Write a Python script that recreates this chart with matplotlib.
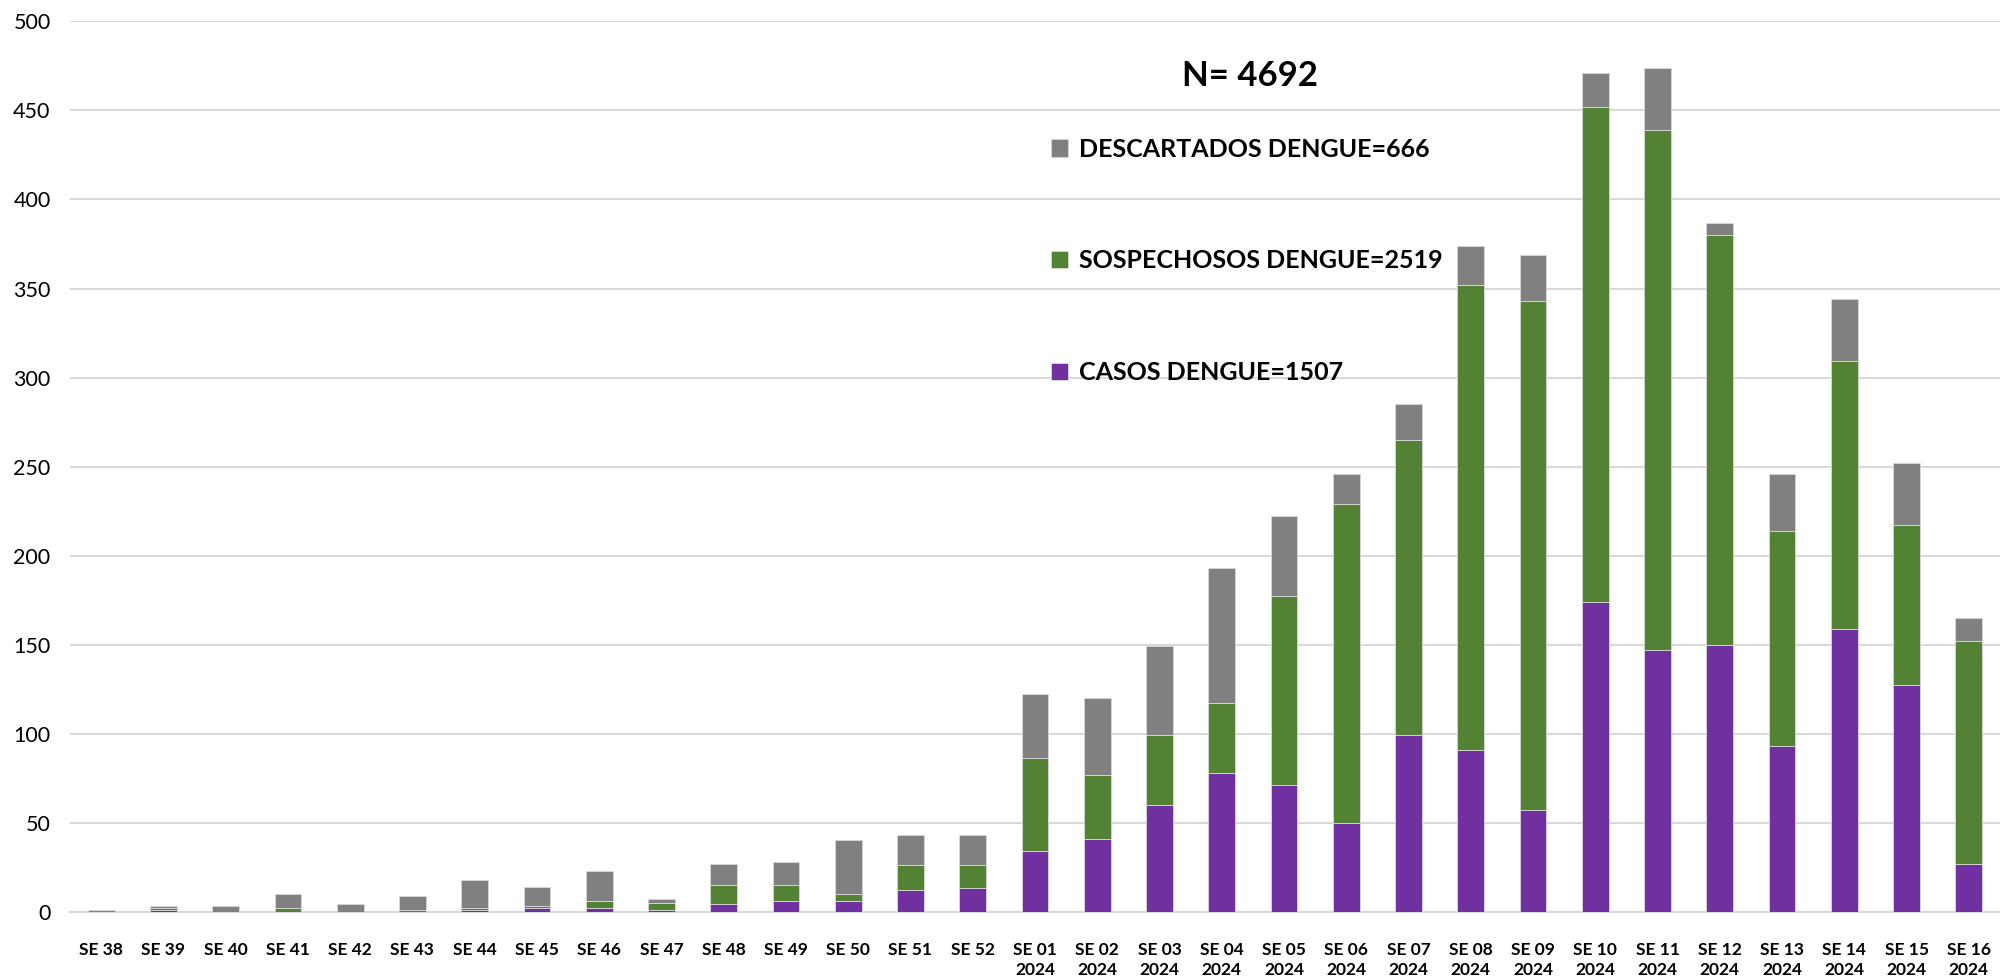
import matplotlib
matplotlib.use('Agg')
import matplotlib.pyplot as plt
import numpy as np

plt.rcParams['font.family'] = ['Lato', 'DejaVu Sans']

# semanas epidemiologicas
semanas = ["SE 38", "SE 39", "SE 40", "SE 41", "SE 42", "SE 43", "SE 44", "SE 45",
           "SE 46", "SE 47", "SE 48", "SE 49", "SE 50", "SE 51", "SE 52",
           "SE 01\n2024", "SE 02\n2024", "SE 03\n2024", "SE 04\n2024", "SE 05\n2024",
           "SE 06\n2024", "SE 07\n2024", "SE 08\n2024", "SE 09\n2024", "SE 10\n2024",
           "SE 11\n2024", "SE 12\n2024", "SE 13\n2024", "SE 14\n2024", "SE 15\n2024",
           "SE 16\n2024"]

casos = [0, 1, 0, 0, 0, 0, 1, 2, 2, 1, 4, 6, 6, 12, 13,
         34, 41, 60, 78, 71, 50, 99, 91, 57, 174, 147, 150, 93, 159, 127, 27]
sospechosos = [0, 1, 0, 2, 0, 1, 1, 1, 4, 4, 11, 9, 4, 14, 13,
               52, 36, 39, 39, 106, 179, 166, 261, 286, 278, 292, 230, 121, 150, 90, 125]
descartados = [1, 1, 3, 8, 4, 8, 16, 11, 17, 2, 12, 13, 30, 17, 17,
               36, 43, 50, 76, 45, 17, 20, 22, 26, 19, 35, 7, 32, 35, 35, 13]

lbl_casos = "CASOS DENGUE=1507"
lbl_sosp = "SOSPECHOSOS DENGUE=2519"
lbl_desc = "DESCARTADOS DENGUE=666"
total_txt = "N= 4692"

c_casos = "#7030A0"
c_sosp = "#548235"
c_desc = "#808080"

fig = plt.figure(figsize=(20, 9.76), dpi=100)
ax = fig.add_axes([0.035, 0.066, 0.965, 0.912])

x = np.arange(len(semanas))
w = 0.43
casos = np.array(casos)
sospechosos = np.array(sospechosos)
descartados = np.array(descartados)

b1 = ax.bar(x, casos, w, color=c_casos, edgecolor='#D9D9D9', linewidth=0.6,
            label=lbl_casos, zorder=3)
b2 = ax.bar(x, sospechosos, w, bottom=casos, color=c_sosp, edgecolor='#D9D9D9',
            linewidth=0.6, label=lbl_sosp, zorder=3)
b3 = ax.bar(x, descartados, w, bottom=casos + sospechosos, color=c_desc,
            edgecolor='#D9D9D9', linewidth=0.6, label=lbl_desc, zorder=3)

ax.set_xlim(-0.5, len(semanas) - 0.5)
ax.set_ylim(0, 500)
ax.set_yticks(range(0, 501, 50))
ax.yaxis.grid(True, color='#D9D9D9', linewidth=1.5, zorder=0)
ax.set_axisbelow(True)
for s in ['top', 'right', 'left']:
    ax.spines[s].set_visible(False)
ax.spines['bottom'].set_color('#D9D9D9')
ax.spines['bottom'].set_linewidth(1.5)
ax.tick_params(axis='both', length=0)
ax.tick_params(axis='y', labelsize=15.5, pad=14)
ax.set_xticks(x)
ax.set_xticklabels(semanas, fontsize=12.5, fontweight='bold', linespacing=1.3)
ax.tick_params(axis='x', pad=22)

fig.text(0.625, 0.922, total_txt, fontsize=25, fontweight='bold',
         ha='center', va='center')

leg = fig.legend(handles=[b3, b2, b1], loc='upper left',
                 bbox_to_anchor=(0.514, 0.882), frameon=False,
                 prop={'size': 18, 'weight': 'bold'},
                 labelspacing=3.55, handlelength=0.7, handleheight=0.7,
                 handletextpad=0.45)

fig.savefig("out.png", dpi=100)
